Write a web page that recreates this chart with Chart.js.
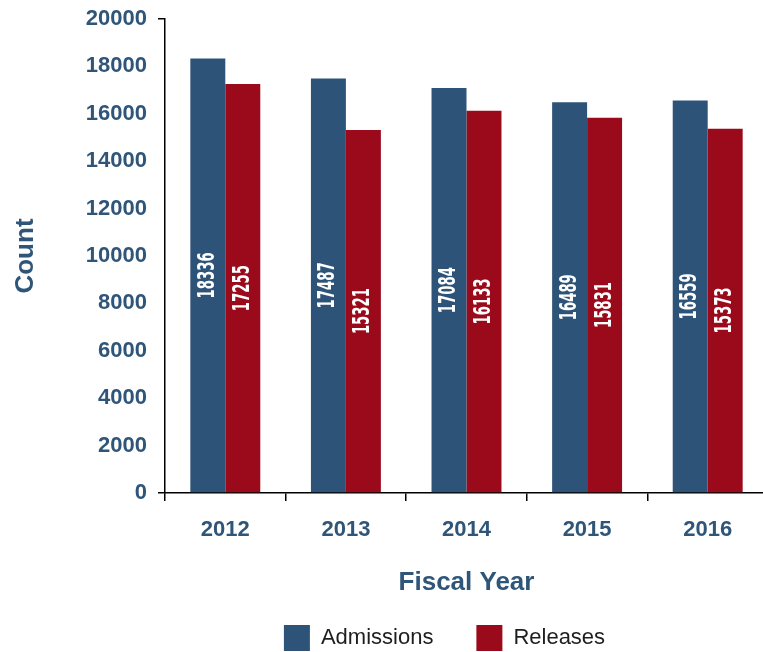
<!DOCTYPE html>
<html>
<head>
<meta charset="utf-8">
<script src="https://cdn.jsdelivr.net/npm/chart.js@4/dist/chart.umd.min.js"></script>
<style>
  html, body { margin: 0; padding: 0; overflow: hidden; background: #fff; width: 763px; height: 652px; }
  #wrap { position: relative; width: 768px; height: 652px; }
</style>
</head>
<body>
<div id="wrap"><canvas id="c"></canvas></div>
<script>
// Fiscal years and yearly counts
const years = ['2012', '2013', '2014', '2015', '2016'];
const admissions = [18336, 17487, 17084, 16489, 16559];
const releases = [17255, 15321, 16133, 15831, 15373];
const seriesNames = ['Admissions', 'Releases'];
const yMin = 0;
const yMax = 20000;
const yStep = 2000;

const BLUE = '#2e5378';
const RED = '#9b0a1b';
const TEXT_BLUE = '#2f5579';
const SANS = '"Liberation Sans", Arial, sans-serif';

// White vertical value labels centred inside each bar
const barValueLabels = {
  id: 'barValueLabels',
  afterDatasetsDraw(chart) {
    const ctx = chart.ctx;
    chart.data.datasets.forEach((ds, i) => {
      const meta = chart.getDatasetMeta(i);
      meta.data.forEach((bar, j) => {
        const v = ds.data[j];
        const cy = (bar.y + bar.base) / 2;
        ctx.save();
        ctx.translate(bar.x, cy);
        ctx.rotate(-Math.PI / 2);
        ctx.scale(0.64, 1);
        ctx.font = 'bold 23px "DejaVu Sans Condensed", "Liberation Sans Narrow", sans-serif';
        ctx.fillStyle = '#ffffff';
        ctx.textAlign = 'center';
        ctx.textBaseline = 'middle';
        ctx.fillText(String(v), 0, 0);
        ctx.restore();
      });
    });
  }
};

new Chart(document.getElementById('c'), {
  type: 'bar',
  data: {
    labels: years,
    datasets: [
      { label: seriesNames[0], data: admissions, backgroundColor: BLUE, borderWidth: 0 },
      { label: seriesNames[1], data: releases, backgroundColor: RED, borderWidth: 0 }
    ]
  },
  options: {
    responsive: true,
    maintainAspectRatio: false,
    animation: false,
    layout: { padding: { top: 19, right: 0, bottom: -9, left: 0 } },
    datasets: { bar: { categoryPercentage: 0.58, barPercentage: 1.0 } },
    scales: {
      x: {
        offset: true,
        grid: {
          offset: true,
          drawOnChartArea: false,
          drawTicks: true,
          tickLength: 8,
          color: '#000',
          lineWidth: 1.5
        },
        border: { display: true, color: '#000', width: 1.5 },
        ticks: {
          color: TEXT_BLUE,
          font: { family: SANS, size: 22, weight: 'bold' },
          padding: 16
        },
        title: {
          display: true,
          text: 'Fiscal Year',
          color: TEXT_BLUE,
          font: { family: SANS, size: 26, weight: 'bold' },
          padding: { top: 0, bottom: 17 }
        },
        afterFit(scale) { scale.height = 122; }
      },
      y: {
        min: yMin,
        max: yMax,
        ticks: {
          stepSize: yStep,
          color: TEXT_BLUE,
          font: { family: SANS, size: 22, weight: 'bold', lineHeight: 0.7 },
          padding: 11,
          callback: (v) => String(v)
        },
        grid: {
          drawOnChartArea: false,
          drawTicks: true,
          tickLength: 7,
          lineWidth: 1.5,
          color: (c) => (c.tick && (c.tick.value === yMin || c.tick.value === yMax)) ? '#000' : 'rgba(0,0,0,0)'
        },
        border: { display: true, color: '#000', width: 1.5 },
        title: {
          display: true,
          text: 'Count',
          color: TEXT_BLUE,
          font: { family: SANS, size: 26, weight: 'bold' },
          padding: { top: 10, bottom: 0 }
        },
        afterFit(scale) { scale.width = 165; }
      }
    },
    plugins: {
      legend: {
        position: 'bottom',
        fullSize: false,
        labels: {
          boxWidth: 26,
          boxHeight: 26,
          padding: 10,
          color: '#1e1e1e',
          font: { family: SANS, size: 22 },
          generateLabels(chart) {
            const items = Chart.defaults.plugins.legend.labels.generateLabels(chart);
            // trailing en spaces widen each entry so the two keys sit apart
            return items.map((it, i) => Object.assign(it, {
              text: it.text + (i === 0 ? '\u2002\u2002\u2002' : '\u2002\u2002\u2002\u2002'),
              lineWidth: 0
            }));
          }
        }
      },
      tooltip: { enabled: false }
    }
  },
  plugins: [barValueLabels]
});
</script>
</body>
</html>
